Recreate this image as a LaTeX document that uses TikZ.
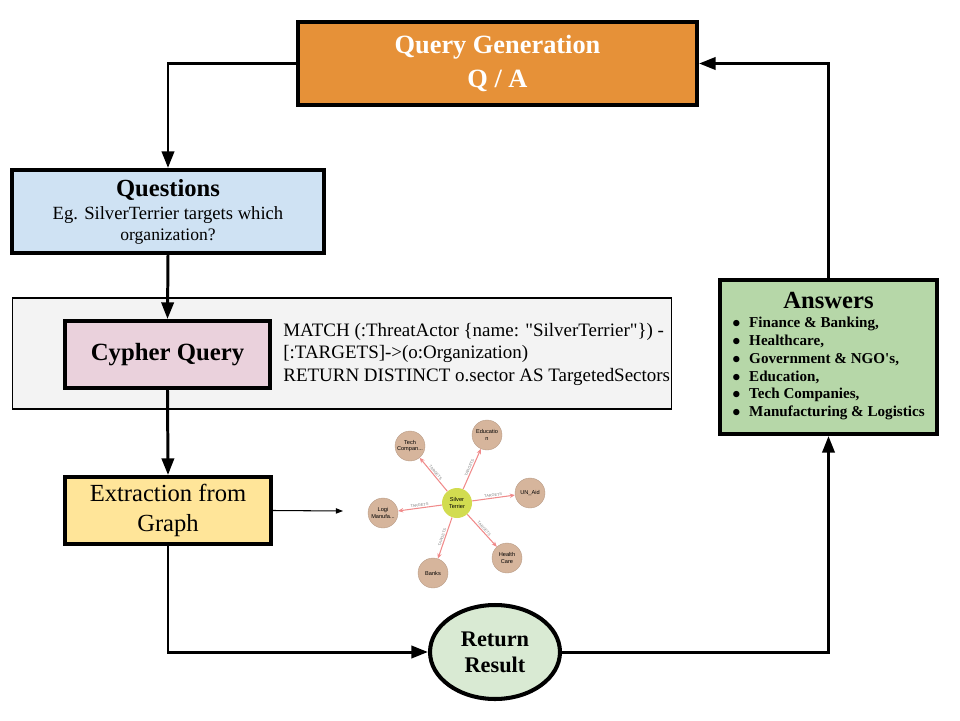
\documentclass[tikz,border=0pt]{standalone}
\usepackage{fontspec}
\setmainfont{Liberation Serif}
\setsansfont{Liberation Sans}
\usepackage{xcolor}
\usetikzlibrary{arrows.meta,shapes.geometric}

\definecolor{qgorange}{HTML}{E69138}
\definecolor{qblue}{HTML}{CFE2F3}
\definecolor{cpink}{HTML}{EAD1DC}
\definecolor{bggray}{HTML}{F3F3F3}
\definecolor{exyellow}{HTML}{FFE599}
\definecolor{ansgreen}{HTML}{B6D7A8}
\definecolor{resgreen}{HTML}{D9EAD3}
\definecolor{gnode}{HTML}{D6B59C}
\definecolor{gcenter}{HTML}{D2DC50}
\definecolor{gedge}{HTML}{F08A8A}

\begin{document}
\begin{tikzpicture}[
    x=0.02cm, y=-0.02cm,
    box/.style={rectangle,draw,line width=2.3pt,inner sep=0pt,align=center},
    conn/.style={line width=1.7pt,-{Triangle[length=9.5pt,width=7pt]}},
    gvertex/.style={circle,fill=gnode,draw=gnode!85!black,line width=0.2pt,minimum size=0.6cm,inner sep=0pt,align=center,font=\sffamily\fontsize{3.2}{3.8}\selectfont},
    gedgestyle/.style={gedge,line width=0.6pt,-{Stealth[length=3pt,width=2.5pt]}},
    glabel/.style={sloped,above,inner sep=0.5pt,text=gray,font=\sffamily\fontsize{2.2}{2.6}\selectfont}
]
\useasboundingbox (0,0) rectangle (960,720);

% Generowanie pytan (gora)
\node[box,fill=qgorange,minimum width=7.98cm,minimum height=1.66cm,
      text=white,font=\fontsize{15}{19.3}\selectfont\bfseries] (qg) at (497.5,63.5) {Query Generation\\Q / A};

% Pytania
\node[box,fill=qblue,minimum width=6.24cm,minimum height=1.66cm] (questions) at (168,211.5)
    {\fontsize{14}{15}\selectfont\bfseries Questions\\[1pt]
     \fontsize{10.6}{12}\selectfont\mdseries Eg. SilverTerrier targets which\\organization?};

% Szare tlo z zapytaniem
\node[rectangle,draw,fill=bggray,line width=0.6pt,minimum width=13.2cm,minimum height=2.22cm] (bg) at (342,353.5) {};
\node[box,fill=cpink,minimum width=4.1cm,minimum height=1.34cm,font=\fontsize{14.1}{16}\selectfont\bfseries] (cypher) at (167.5,354.5) {Cypher Query};
\node[anchor=west,align=left,inner sep=0pt,font=\fontsize{10.8}{12.8}\selectfont] (code) at (283,354)
    {MATCH (:ThreatActor \{name: \textquotedbl SilverTerrier\textquotedbl\}) -\\
     {[}:TARGETS{]}->(o:Organization)\\
     RETURN DISTINCT o.sector AS TargetedSectors};

% Ekstrakcja z grafu
\node[box,fill=exyellow,minimum width=4.12cm,minimum height=1.34cm,font=\fontsize{14}{17}\selectfont] (extraction) at (168,510.5) {Extraction from\\Graph};

% Wynik
\node[ellipse,draw,line width=2.3pt,fill=resgreen,minimum width=2.6cm,minimum height=1.88cm,inner sep=0pt,align=center,
      font=\fontsize{12.7}{14.7}\selectfont\bfseries] (result) at (495,652) {Return\\Result};

% Odpowiedzi
\node[box,fill=ansgreen,minimum width=4.34cm,minimum height=3.08cm,font=\bfseries] (answers) at (828.5,357)
    {\fontsize{14}{17}\selectfont Answers\\[3pt]
     \fontsize{8.6}{10.1}\selectfont
     \begin{tabular}{@{}l@{\hspace{5pt}}l@{}}
     $\bullet$ & Finance \& Banking,\\
     $\bullet$ & Healthcare,\\
     $\bullet$ & Government \& NGO\textquotesingle s,\\
     $\bullet$ & Education,\\
     $\bullet$ & Tech Companies,\\
     $\bullet$ & Manufacturing \& Logistics
     \end{tabular}};

% Graf
\node[circle,fill=gcenter,minimum size=0.6cm,inner sep=0pt,align=center,font=\sffamily\fontsize{3.2}{3.8}\selectfont] (st) at (457,503) {Silver\\Terrier};
\node[gvertex] (tech) at (410,446) {Tech\\Compan...};
\node[gvertex] (edu) at (487,435) {Educatio\\n};
\node[gvertex] (unaid) at (530,493) {UN\_Aid};
\node[gvertex] (health) at (507,558) {Health\\Care};
\node[gvertex] (banks) at (433,573) {Banks};
\node[gvertex] (logi) at (383,513) {Logi\\Manufa...};
\coordinate (graphin) at (343,511);

\foreach \t in {tech,edu,unaid,health,banks,logi}
    \draw[gedgestyle] (st) -- node[glabel] {TARGETS} (\t);

% Polaczenia
\draw[conn] (qg.west) -| (questions.north);
\draw[conn] (questions.south) -- (cypher.north);
\draw[conn] (cypher.south) -- (extraction.north);
\draw[line width=0.6pt,-{Triangle[length=4pt,width=3pt]}] (extraction.east) -- (graphin);
\draw[conn] (extraction.south) |- (result.west);
\draw[conn] (result.east) -| (answers.south);
\draw[conn] (answers.north) |- (qg.east);

\end{tikzpicture}
\end{document}
